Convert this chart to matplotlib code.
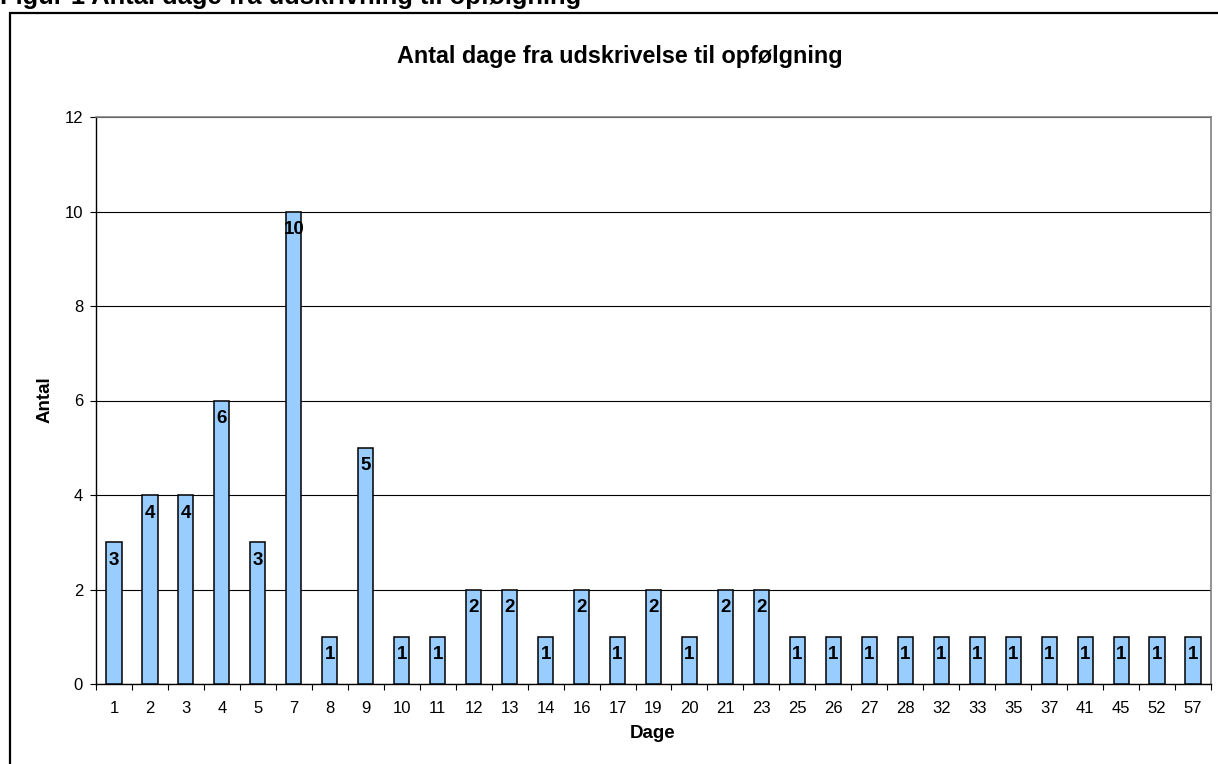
import matplotlib
matplotlib.use("Agg")
import matplotlib.pyplot as plt
from matplotlib.patches import Rectangle
import numpy as np

categories = ["1", "2", "3", "4", "5", "7", "8", "9", "10", "11", "12", "13", "14", "16",
              "17", "19", "20", "21", "23", "25", "26", "27", "28", "32", "33", "35", "37",
              "41", "45", "52", "57"]
values = [3, 4, 4, 6, 3, 10, 1, 5, 1, 1, 2, 2, 1, 2, 1, 2, 1, 2, 2, 1, 1, 1, 1, 1, 1,
          1, 1, 1, 1, 1, 1]
y_ticks = [0, 2, 4, 6, 8, 10, 12]

chart_title = "Antal dage fra udskrivelse til opfølgning"
caption = "Figur 1 Antal dage fra udskrivning til opfølgning"
x_label = "Dage"
y_label = "Antal"

plt.rcParams['font.family'] = ['Liberation Sans', 'DejaVu Sans']

W, H = 1218, 764
fig = plt.figure(figsize=(W / 100, H / 100), dpi=100)
fig.patch.set_facecolor("white")

left, right, top, bottom = 96, 1211, 117, 684
ax = fig.add_axes([left / W, 1 - bottom / H, (right - left) / W, (bottom - top) / H])

x = np.arange(len(categories))
bars = ax.bar(x, values, width=0.42, color="#99CCFF", edgecolor="black", linewidth=1.1, zorder=3)

for xi, v in zip(x, values):
    ax.annotate(str(v), xy=(xi, v), xytext=(0, -7), textcoords="offset points",
                ha="center", va="top", fontsize=13.5, fontweight="bold", zorder=4)

ax.set_xlim(-0.5, len(categories) - 0.5)
ax.set_ylim(0, 12)
ax.set_yticks(y_ticks)
ax.set_yticklabels([str(t) for t in y_ticks], fontsize=12)
ax.yaxis.grid(True, color="black", linewidth=0.8, zorder=0)
ax.set_axisbelow(True)

ax.set_xticks(x)
ax.set_xticklabels(categories, fontsize=12)
ax.set_xticks(np.arange(-0.5, len(categories)), minor=True)
ax.tick_params(axis="x", which="major", length=0, pad=12)
ax.tick_params(axis="x", which="minor", length=4.3, width=0.8, color="black")
ax.tick_params(axis="y", which="major", length=4.3, width=0.8, pad=5)

for s in ["top", "right"]:
    ax.spines[s].set_color("#808080")
    ax.spines[s].set_linewidth(1.2)
for s in ["left", "bottom"]:
    ax.spines[s].set_color("black")
    ax.spines[s].set_linewidth(1.0)

fig.text(620 / W, 1 - 57 / H, chart_title, ha="center", va="center", fontsize=16.8, fontweight="bold")
fig.text(653 / W, 1 - 733 / H, x_label, ha="center", va="center", fontsize=13.5, fontweight="bold")
fig.text(45 / W, 1 - 400 / H, y_label, ha="center", va="center", rotation=90, fontsize=13.5, fontweight="bold")

fig.text(0.0, 1 - 4 / H, caption, ha="left", va="baseline", fontsize=18.4, fontweight="bold")

frame = Rectangle((10 / W, -0.05), 1.1, 1 - 13 / H + 0.05, transform=fig.transFigure,
                  fill=False, edgecolor="black", linewidth=1.6, clip_on=False)
fig.patches.append(frame)

fig.savefig("out.png", dpi=100)
